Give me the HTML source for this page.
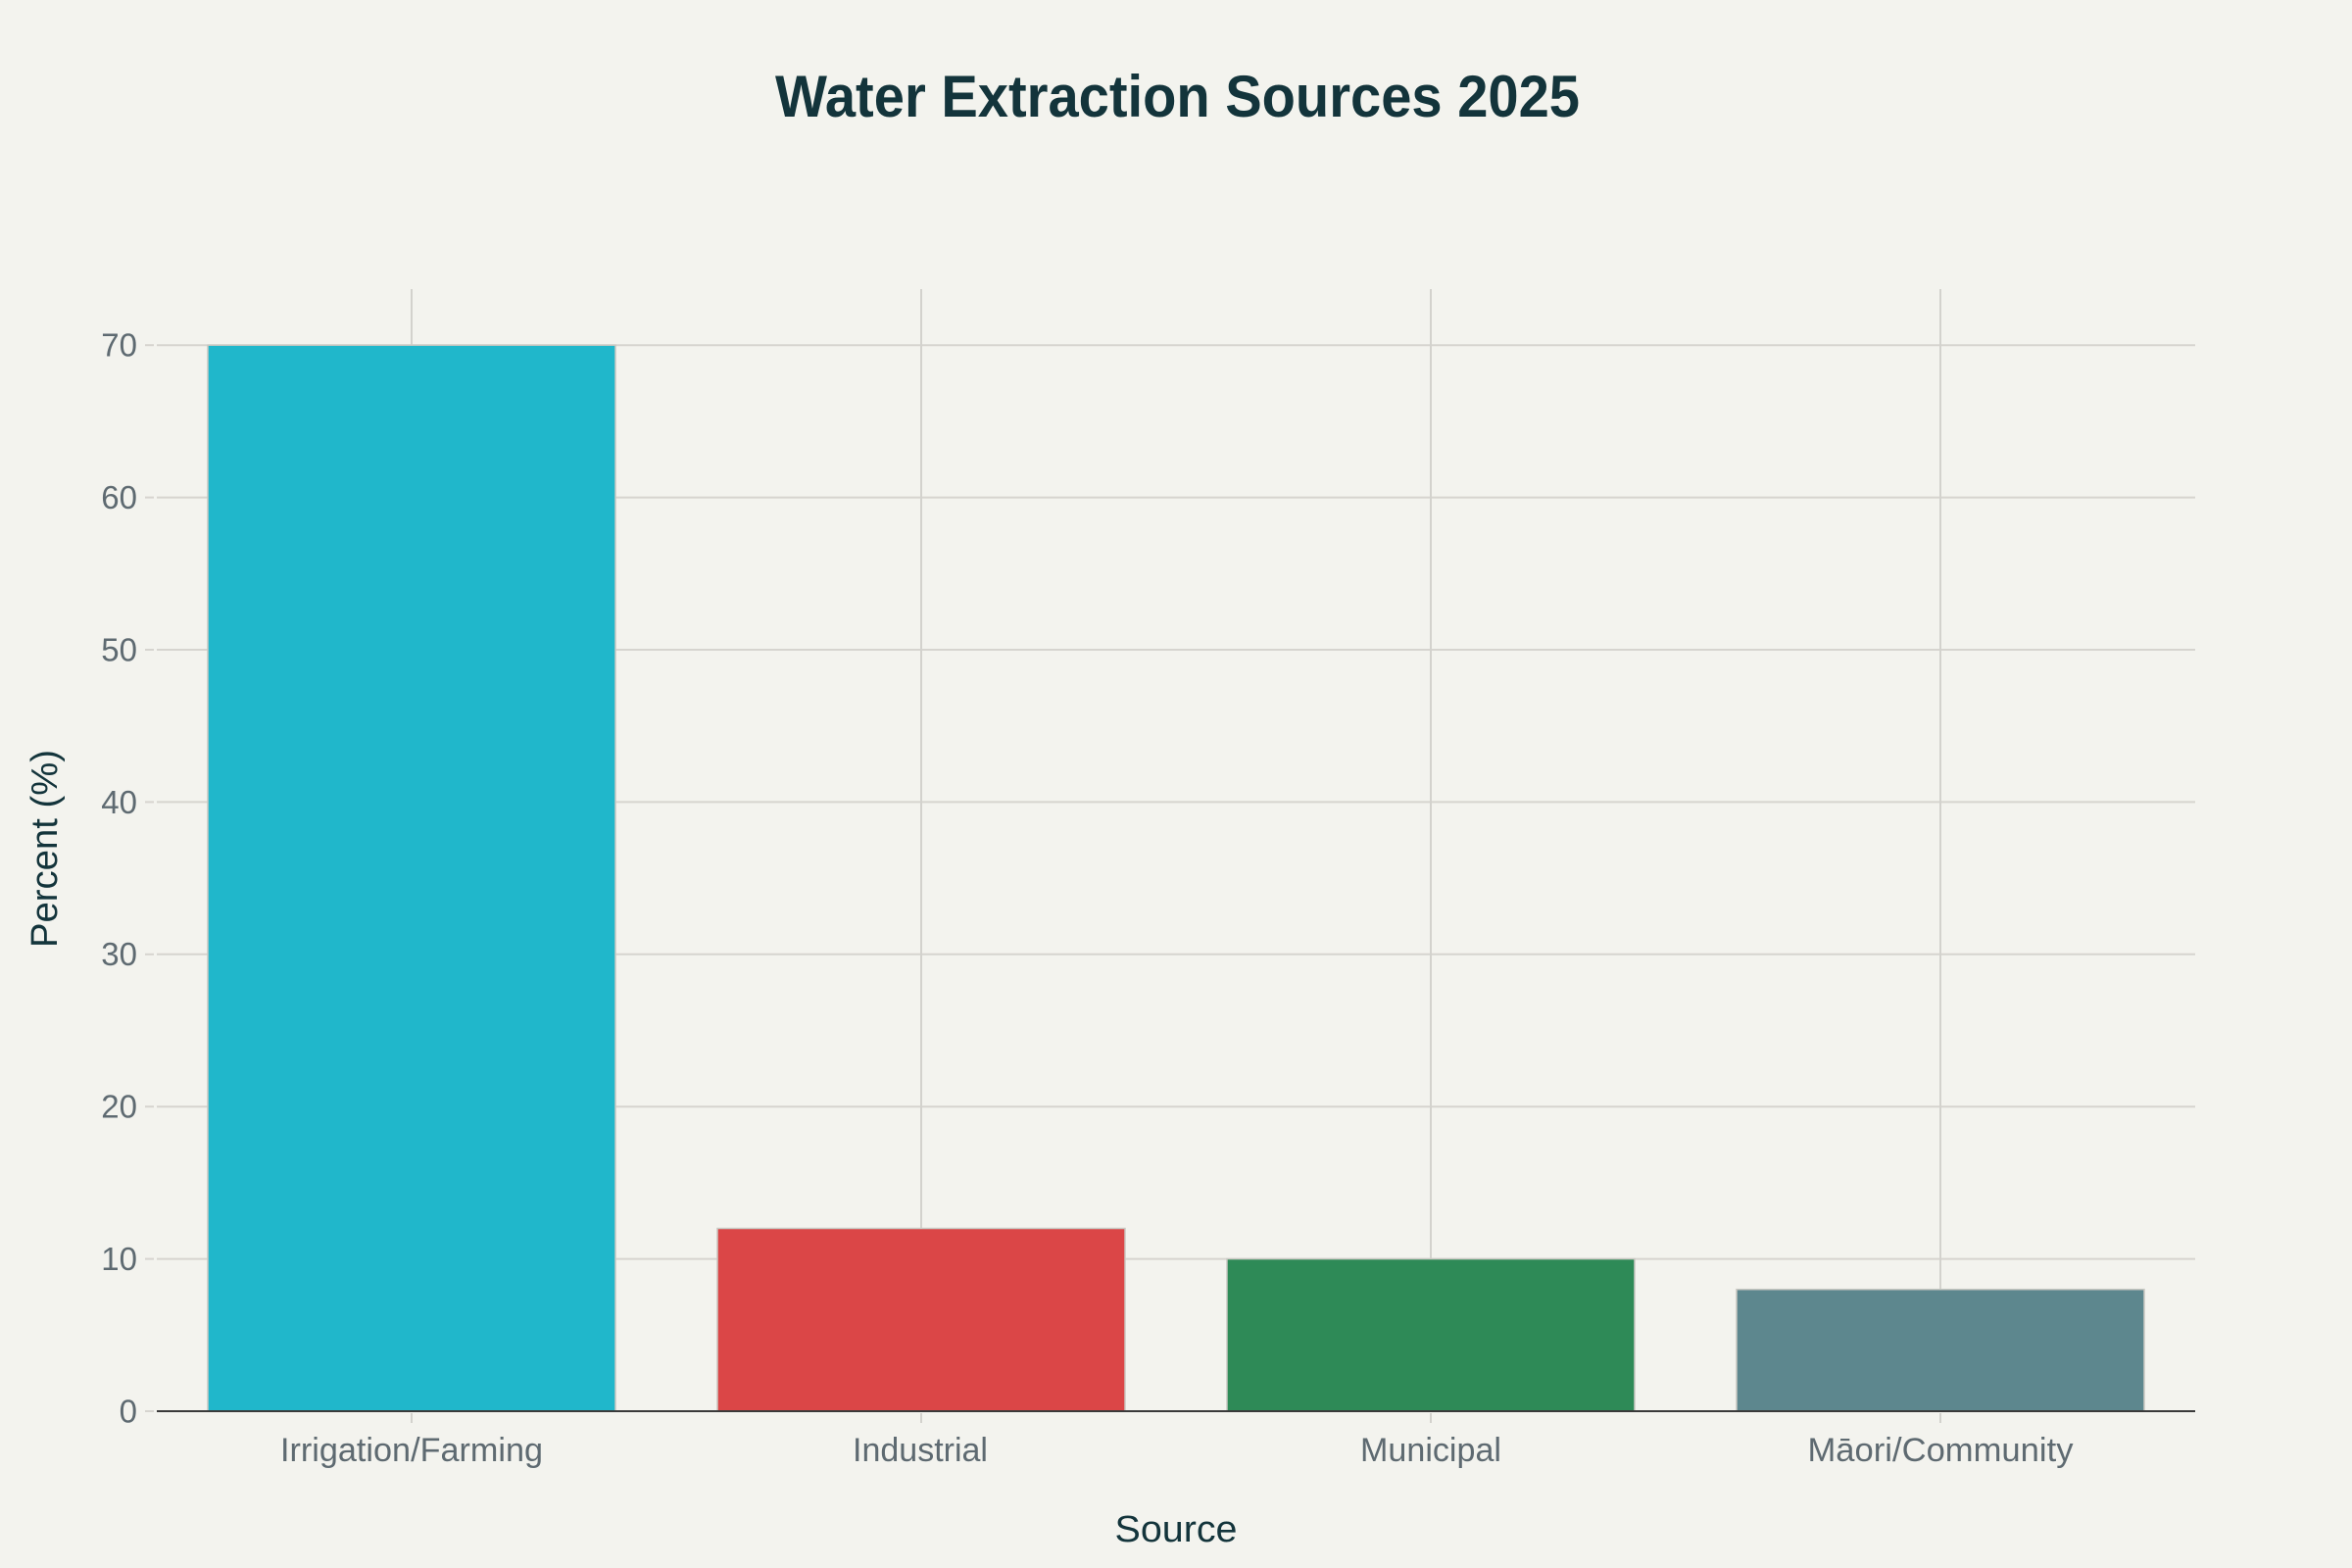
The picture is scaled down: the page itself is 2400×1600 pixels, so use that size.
<!DOCTYPE html>
<html>
<head>
<meta charset="utf-8">
<style>
  html,body{margin:0;padding:0;background:#F3F3EE;}
  svg{display:block;}
  text{font-family:"Liberation Sans", Arial, sans-serif;}
</style>
</head>
<body>
<svg width="2400" height="1600" viewBox="0 0 2400 1600" xmlns="http://www.w3.org/2000/svg">
  <rect x="0" y="0" width="2400" height="1600" fill="#F3F3EE"/>

  <!-- horizontal gridlines -->
  <g stroke="#D6D4CF" stroke-width="2">
    <line x1="160" y1="1284.6" x2="2240" y2="1284.6"/>
    <line x1="160" y1="1129.2" x2="2240" y2="1129.2"/>
    <line x1="160" y1="973.8" x2="2240" y2="973.8"/>
    <line x1="160" y1="818.4" x2="2240" y2="818.4"/>
    <line x1="160" y1="663.0" x2="2240" y2="663.0"/>
    <line x1="160" y1="507.6" x2="2240" y2="507.6"/>
    <line x1="160" y1="352.2" x2="2240" y2="352.2"/>
  </g>
  <!-- vertical gridlines -->
  <g stroke="#D3D2CD" stroke-width="2">
    <line x1="420" y1="295" x2="420" y2="1440"/>
    <line x1="940" y1="295" x2="940" y2="1440"/>
    <line x1="1460" y1="295" x2="1460" y2="1440"/>
    <line x1="1980" y1="295" x2="1980" y2="1440"/>
  </g>

  <!-- y ticks -->
  <g stroke="#D6D4CF" stroke-width="2">
    <line x1="148" y1="1440" x2="157" y2="1440"/>
    <line x1="148" y1="1284.6" x2="157" y2="1284.6"/>
    <line x1="148" y1="1129.2" x2="157" y2="1129.2"/>
    <line x1="148" y1="973.8" x2="157" y2="973.8"/>
    <line x1="148" y1="818.4" x2="157" y2="818.4"/>
    <line x1="148" y1="663.0" x2="157" y2="663.0"/>
    <line x1="148" y1="507.6" x2="157" y2="507.6"/>
    <line x1="148" y1="352.2" x2="157" y2="352.2"/>
  </g>
  <!-- x ticks -->
  <g stroke="#D3D2CD" stroke-width="2">
    <line x1="420" y1="1442" x2="420" y2="1452"/>
    <line x1="940" y1="1442" x2="940" y2="1452"/>
    <line x1="1460" y1="1442" x2="1460" y2="1452"/>
    <line x1="1980" y1="1442" x2="1980" y2="1452"/>
  </g>

  <!-- bars -->
  <g stroke="#C9C8C2" stroke-width="1.5">
    <rect x="212" y="352.2" width="416" height="1087.8" fill="#20B7CB"/>
    <rect x="732" y="1253.5" width="416" height="186.5" fill="#DB4647"/>
    <rect x="1252" y="1284.6" width="416" height="155.4" fill="#2E8A57"/>
    <rect x="1772" y="1315.7" width="416" height="124.3" fill="#5D878E"/>
  </g>

  <!-- zero line -->
  <line x1="160" y1="1440" x2="2240" y2="1440" stroke="#3A3A3A" stroke-width="2"/>

  <!-- y tick labels -->
  <g fill="#5E6A71" font-size="33" text-anchor="end">
    <text x="140" y="1451.5">0</text>
    <text x="140" y="1296">10</text>
    <text x="140" y="1140.5">20</text>
    <text x="140" y="985">30</text>
    <text x="140" y="830">40</text>
    <text x="140" y="674.5">50</text>
    <text x="140" y="519">60</text>
    <text x="140" y="363.5">70</text>
  </g>

  <!-- x tick labels -->
  <g fill="#5E6A71" font-size="34" text-anchor="middle">
    <text x="420" y="1491" textLength="268" lengthAdjust="spacingAndGlyphs">Irrigation/Farming</text>
    <text x="939" y="1491" textLength="138" lengthAdjust="spacingAndGlyphs">Industrial</text>
    <text x="1460" y="1491" textLength="144" lengthAdjust="spacingAndGlyphs">Municipal</text>
    <text x="1980" y="1491" textLength="271" lengthAdjust="spacingAndGlyphs">Māori/Community</text>
  </g>

  <!-- axis titles -->
  <text x="1200" y="1573" fill="#13343B" font-size="38" text-anchor="middle" textLength="125" lengthAdjust="spacingAndGlyphs">Source</text>
  <text transform="translate(58,866) rotate(-90)" x="0" y="0" fill="#13343B" font-size="38" text-anchor="middle" textLength="202" lengthAdjust="spacingAndGlyphs">Percent (%)</text>

  <!-- title -->
  <text x="1201.5" y="119" fill="#13343B" font-size="60" font-weight="bold" text-anchor="middle" textLength="821" lengthAdjust="spacingAndGlyphs">Water Extraction Sources 2025</text>
</svg>
</body>
</html>
